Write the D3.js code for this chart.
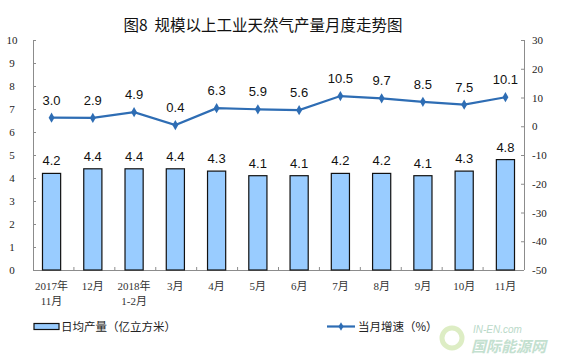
<!DOCTYPE html>
<html><head><meta charset="utf-8">
<script src="https://cdn.jsdelivr.net/npm/d3@7/dist/d3.min.js"></script>
<style>body{margin:0;background:#fff}</style>
</head><body><svg id="c" width="561" height="357"></svg>
<script>
const categories = [["2017年","11月"],["12月"],["2018年","1-2月"],["3月"],["4月"],["5月"],["6月"],["7月"],["8月"],["9月"],["10月"],["11月"]];
const output = [4.2,4.4,4.4,4.4,4.3,4.1,4.1,4.2,4.2,4.1,4.3,4.8];
const growth = [3.0,2.9,4.9,0.4,6.3,5.9,5.6,10.5,9.7,8.5,7.5,10.1];
const leftTicks = [0,1,2,3,4,5,6,7,8,9,10];
const rightTicks = [30,20,10,0,-10,-20,-30,-40,-50];
const title = "图8\u00a0\u00a0规模以上工业天然气产量月度走势图";
const legendBar = "日均产量（亿立方米）";
const legendLine = "当月增速（%）";

const svg = d3.select("#c");
const L = 33, R = 524, T = 40, B = 270;
const x = d3.scaleBand().domain(d3.range(categories.length)).range([L, R]).paddingInner(0.56).paddingOuter(0.23);
const yL = d3.scaleLinear().domain([0, 10]).range([B, T]);
const yR = d3.scaleLinear().domain([-50, 30]).range([B, T]);
const axisColor = "#8c8c8c";
const serif = "'Liberation Serif','Times New Roman',serif";
const sans = "'Liberation Sans',Arial,sans-serif";

svg.append("text").attr("x", 263).attr("y", 31).attr("text-anchor", "middle")
  .attr("font-family", "'Noto Sans CJK SC',sans-serif").attr("font-size", 15.5).attr("fill", "#111").text(title);

// left axis
const gL = svg.append("g").attr("transform", `translate(${L},0)`)
  .call(d3.axisRight(yL).tickValues(leftTicks).tickSize(3).tickFormat(""));
gL.selectAll("path,line").attr("stroke", axisColor);
gL.select(".domain").attr("d", `M0.5,${T}V${B}`);
svg.append("g").selectAll("text").data(leftTicks).join("text")
  .attr("x", 12).attr("y", d => yL(d) + 4).attr("text-anchor", "middle")
  .attr("font-family", serif).attr("font-size", 11).attr("fill", "#222").text(d => d);

// right axis
const gR = svg.append("g").attr("transform", `translate(${R},0)`)
  .call(d3.axisLeft(yR).tickValues(rightTicks).tickSize(3).tickFormat(""));
gR.selectAll("path,line").attr("stroke", axisColor);
gR.select(".domain").attr("d", `M0.5,${T}V${B}`);
svg.append("g").selectAll("text").data(rightTicks).join("text")
  .attr("x", 532).attr("y", d => yR(d) + 4).attr("text-anchor", "start")
  .attr("font-family", serif).attr("font-size", 11).attr("fill", "#222").text(d => d);

// x axis baseline & ticks between categories
svg.append("line").attr("x1", L).attr("x2", R).attr("y1", B + 0.5).attr("y2", B + 0.5).attr("stroke", axisColor);
svg.append("g").selectAll("line").data(d3.range(1, categories.length)).join("line")
  .attr("x1", i => L + i * (R - L) / categories.length).attr("x2", i => L + i * (R - L) / categories.length)
  .attr("y1", B).attr("y2", B - 3).attr("stroke", axisColor);

// bars
svg.append("g").selectAll("rect").data(output).join("rect")
  .attr("x", (d, i) => x(i)).attr("width", x.bandwidth())
  .attr("y", d => yL(d)).attr("height", d => yL(0) - yL(d))
  .attr("fill", "#99ccff").attr("stroke", "#111").attr("stroke-width", 1.2);
svg.append("g").selectAll("text").data(output).join("text")
  .attr("x", (d, i) => x(i) + x.bandwidth() / 2).attr("y", d => yL(d) - 8)
  .attr("text-anchor", "middle").attr("font-family", sans).attr("font-size", 13).attr("fill", "#111")
  .text(d => d.toFixed(1));

// line
const cx = i => x(i) + x.bandwidth() / 2;
svg.append("path").datum(growth)
  .attr("d", d3.line().x((d, i) => cx(i)).y(d => yR(d)))
  .attr("fill", "none").attr("stroke", "#2e6db4").attr("stroke-width", 2.2);
svg.append("g").selectAll("path").data(growth).join("path")
  .attr("d", d3.symbol(d3.symbolDiamond, 30))
  .attr("transform", (d, i) => `translate(${cx(i)},${yR(d)})`).attr("fill", "#2e6db4");
svg.append("g").selectAll("text").data(growth).join("text")
  .attr("x", (d, i) => cx(i)).attr("y", d => yR(d) - 13)
  .attr("text-anchor", "middle").attr("font-family", sans).attr("font-size", 13).attr("fill", "#111")
  .text(d => d.toFixed(1));

// category labels
const cg = svg.append("g");
categories.forEach((c, i) => {
  c.forEach((s, j) => {
    cg.append("text").attr("x", cx(i)).attr("y", 290 + j * 14.5).attr("text-anchor", "middle")
      .attr("font-family", serif + ",'Noto Sans CJK SC'").attr("font-size", 11).attr("fill", "#333").text(s);
  });
});

// legend
svg.append("rect").attr("x", 34).attr("y", 323.5).attr("width", 25).attr("height", 6)
  .attr("fill", "#99ccff").attr("stroke", "#111").attr("stroke-width", 1.2);
svg.append("text").attr("x", 61).attr("y", 331).attr("font-family", "'Noto Sans CJK SC',sans-serif")
  .attr("font-size", 11.5).attr("fill", "#222").text(legendBar);
svg.append("line").attr("x1", 327).attr("x2", 355).attr("y1", 326.5).attr("y2", 326.5)
  .attr("stroke", "#2e6db4").attr("stroke-width", 2.2);
svg.append("path").attr("d", d3.symbol(d3.symbolDiamond, 22)).attr("transform", "translate(341,326.5)").attr("fill", "#2e6db4");
svg.append("text").attr("x", 358).attr("y", 331).attr("font-family", "'Noto Sans CJK SC',sans-serif")
  .attr("font-size", 11.5).attr("fill", "#222").text(legendLine);

// watermark
svg.append("circle").attr("cx", 452).attr("cy", 338).attr("r", 10).attr("fill", "none")
  .attr("stroke", "#d5e8b5").attr("stroke-width", 5).attr("opacity", 0.8);
svg.append("text").attr("x", 473).attr("y", 333).attr("font-family", sans).attr("font-style", "italic")
  .attr("font-size", 10).attr("fill", "#b9d9c8").text("IN-EN.com");
svg.append("text").attr("x", 471).attr("y", 352).attr("font-family", "'Noto Sans CJK SC',sans-serif").attr("font-style", "italic")
  .attr("font-size", 15).attr("font-weight", "bold").attr("fill", "#c3e0cf").text("国际能源网");
</script></body></html>
